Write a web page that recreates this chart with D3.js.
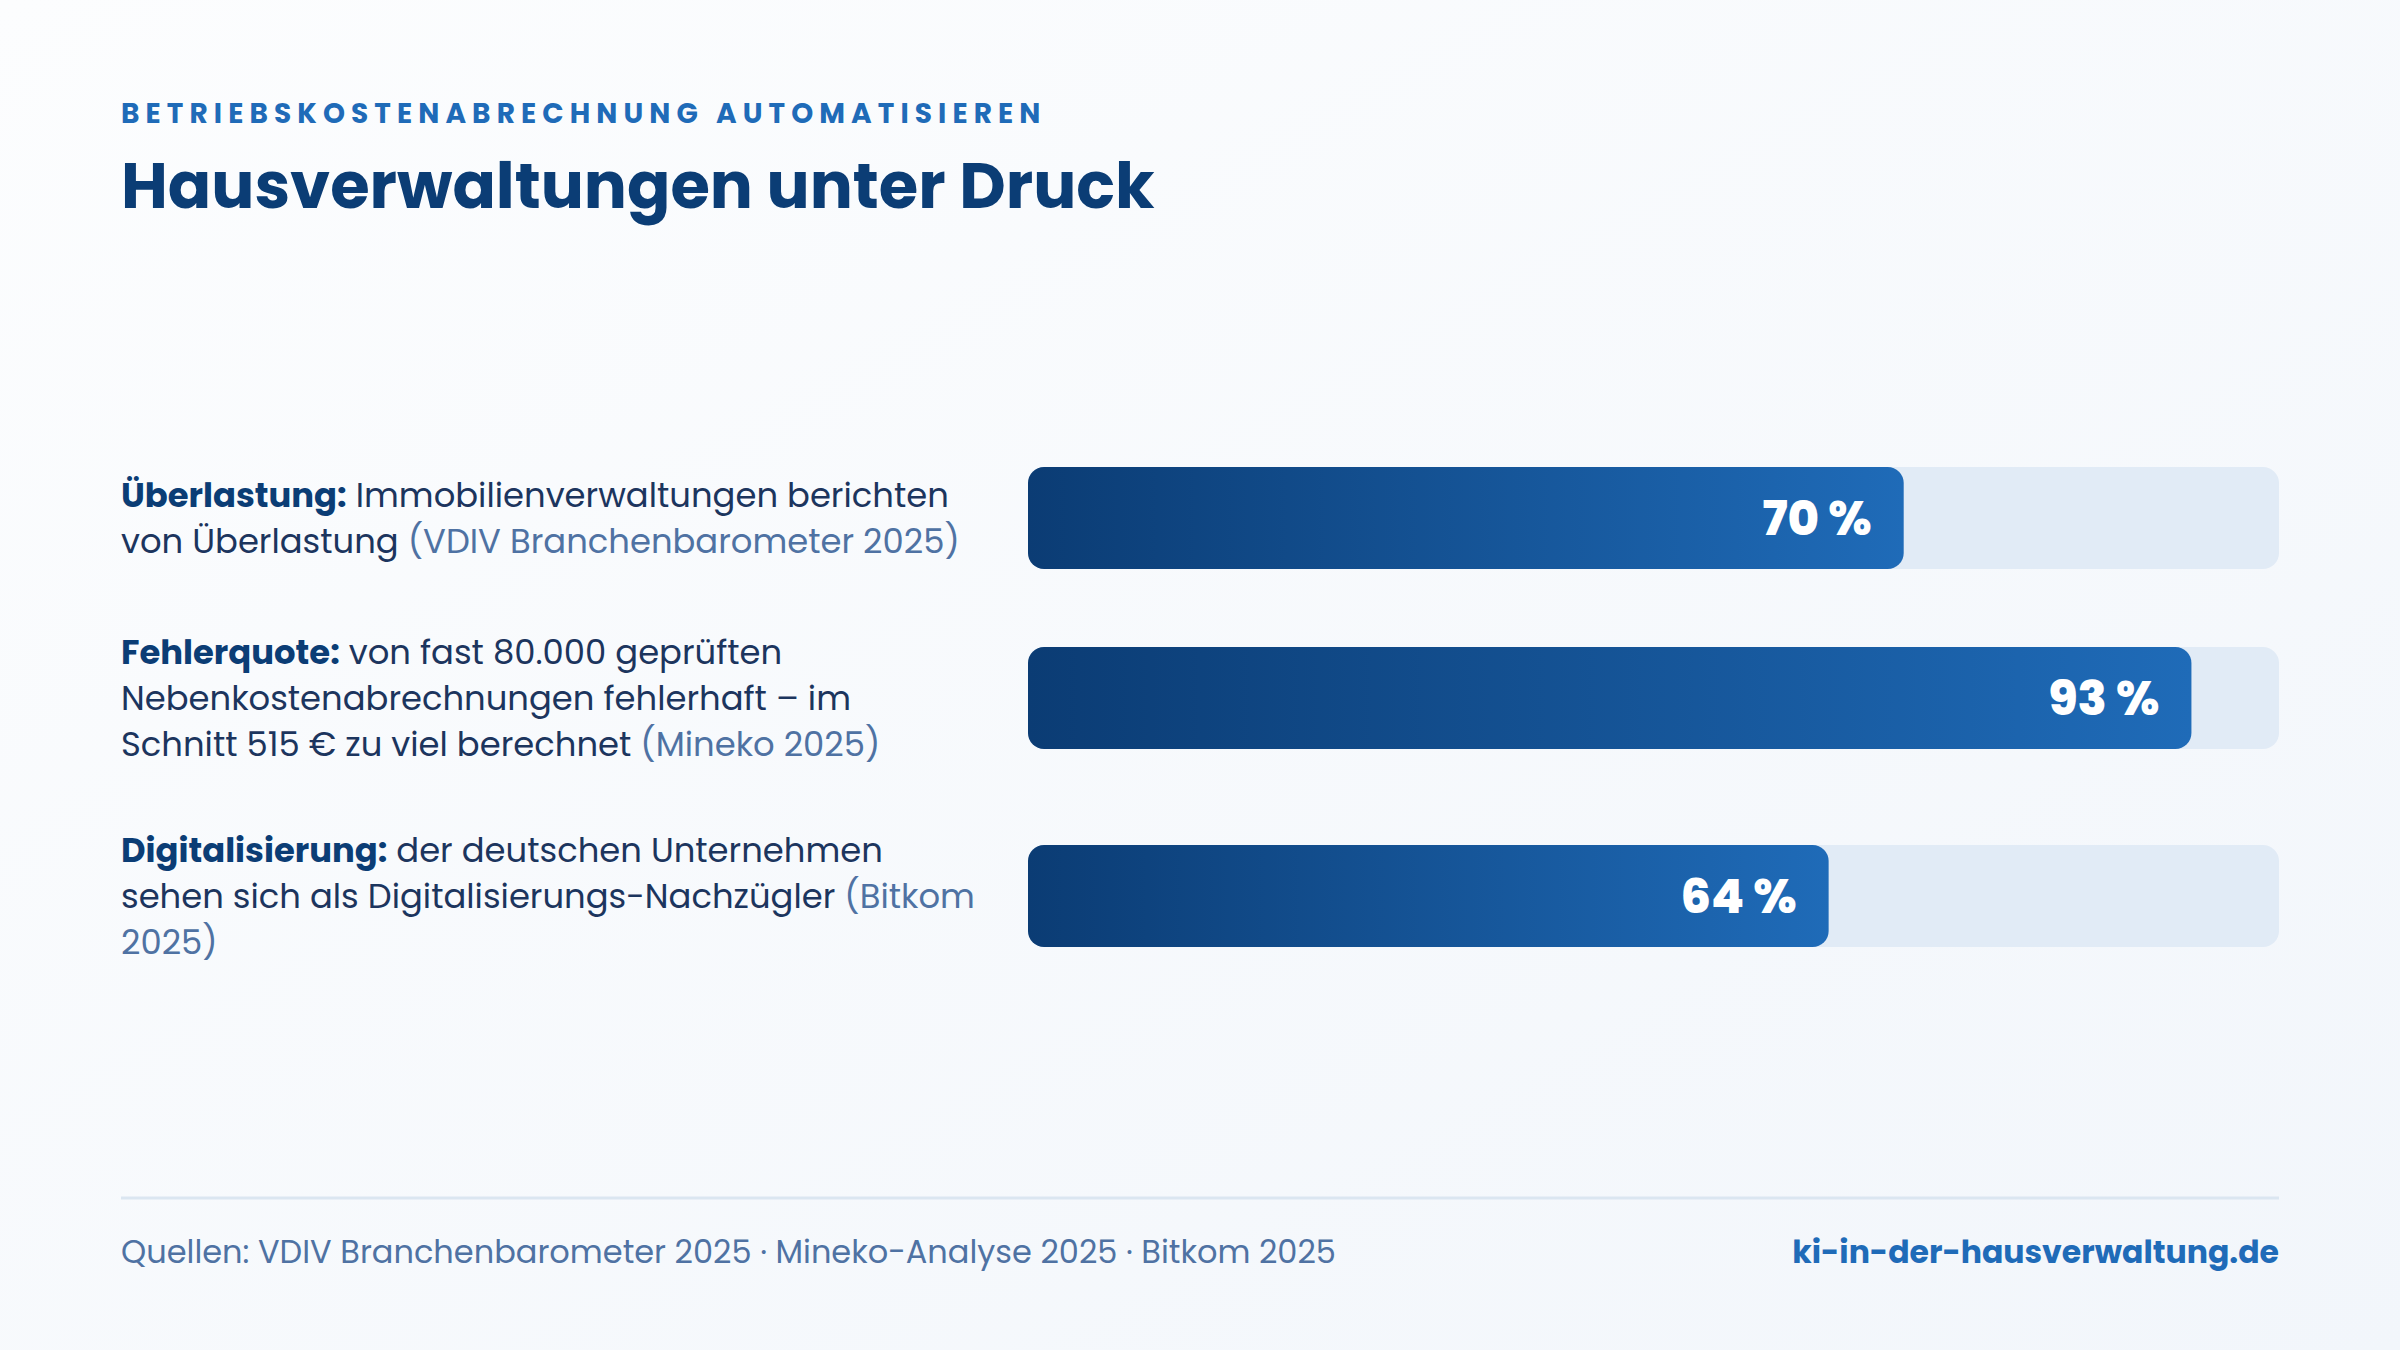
<!DOCTYPE html>
<html>
<head>
<meta charset="utf-8">
<script src="https://cdn.jsdelivr.net/npm/d3@7"></script>
<style>
  html, body { margin: 0; padding: 0; }
  body { width: 2400px; height: 1350px; overflow: hidden; }
  svg { display: block; font-family: Poppins, Inter, "Noto Sans", sans-serif; }
</style>
</head>
<body>
<div id="chart"></div>
<script>
// data ("\n" marks the line breaks seen in the picture)
const kicker = "BETRIEBSKOSTENABRECHNUNG AUTOMATISIEREN";
const title = "Hausverwaltungen unter Druck";
const headings = ["Überlastung:", "Fehlerquote:", "Digitalisierung:"];
const descriptions = [
  "Immobilienverwaltungen berichten\nvon Überlastung",
  "von fast 80.000 geprüften\nNebenkostenabrechnungen fehlerhaft – im\nSchnitt 515 € zu viel berechnet",
  "der deutschen Unternehmen\nsehen sich als Digitalisierungs-Nachzügler"
];
const sources = ["(VDIV Branchenbarometer 2025)", "(Mineko 2025)", "(Bitkom\n2025)"];
const values = [70, 93, 64];
const footerLeft = "Quellen: VDIV Branchenbarometer 2025 · Mineko-Analyse 2025 · Bitkom 2025";
const footerRight = "ki-in-der-hausverwaltung.de";

const W = 2400, H = 1350;
const left = 121, right = 2279;
const barX0 = 1028, barH = 102, gap = 60, lineH = 46;

const svg = d3.select("#chart").append("svg")
  .attr("width", W).attr("height", H);

const defs = svg.append("defs");
const bg = defs.append("linearGradient").attr("id", "bg")
  .attr("x1", 0).attr("y1", 0).attr("x2", 1).attr("y2", 1);
bg.append("stop").attr("offset", 0).attr("stop-color", "#fcfdfe");
bg.append("stop").attr("offset", 1).attr("stop-color", "#f2f6fb");

svg.append("rect").attr("width", W).attr("height", H).attr("fill", "url(#bg)");

// header
svg.append("text")
  .attr("x", left).attr("y", 123)
  .attr("fill", "#1f6bb8")
  .style("font-size", "28px").style("font-weight", 700)
  .style("letter-spacing", "6.1px")
  .text(kicker);

svg.append("text")
  .attr("x", left).attr("y", 208)
  .attr("fill", "#0b3d75")
  .style("font-size", "64px").style("font-weight", 700)
  .text(title);

var x = d3.scaleLinear().domain([0, 100]).range([barX0, right]);

// split an item into lines of styled segments
function itemLines(i) {
  const lines = [[{t: headings[i], k: "h"}]];
  [[descriptions[i], "d"], [sources[i], "s"]].forEach(([str, k]) => {
    str.split("\n").forEach((part, pi) => {
      if (pi > 0) lines.push([]);
      lines[lines.length - 1].push({t: part, k: k});
    });
  });
  return lines;
}

const colors = {h: "#0b3d75", d: "#1c355e", s: "#4f72a3"};
let yTop = 467;

headings.forEach((h, i) => {
  const lines = itemLines(i);
  const blockH = Math.max(lines.length * lineH, barH);
  const cy = yTop + blockH / 2;

  const g = svg.append("g");
  const txt = g.append("text").style("font-size", "33.8px");
  lines.forEach((line, li) => {
    const by = cy - (lines.length - 1) * lineH / 2 + li * lineH + 12;
    line.forEach((seg, si) => {
      txt.append("tspan")
        .attr("x", si == 0 ? left : null)
        .attr("y", si == 0 ? by : null)
        .attr("fill", colors[seg.k])
        .style("font-weight", seg.k == "h" ? 700 : 400)
        .text((si == 0 ? "" : " ") + seg.t);
    });
  });

  const by0 = cy - barH / 2;
  const grad = defs.append("linearGradient").attr("id", "bar" + i)
    .attr("gradientUnits", "userSpaceOnUse")
    .attr("x1", x(0)).attr("x2", x(values[i])).attr("y1", 0).attr("y2", 0);
  grad.append("stop").attr("offset", 0).attr("stop-color", "#0b3c74");
  grad.append("stop").attr("offset", 1).attr("stop-color", "#1f6bb8");

  g.append("rect")
    .attr("x", x(0)).attr("y", by0)
    .attr("width", x(100) - x(0)).attr("height", barH)
    .attr("rx", 16).attr("fill", "#e1ebf6");

  g.append("rect")
    .attr("x", x(0)).attr("y", by0)
    .attr("width", x(values[i]) - x(0)).attr("height", barH)
    .attr("rx", 16).attr("fill", "url(#bar" + i + ")");

  g.append("text")
    .attr("x", x(values[i]) - 32).attr("y", cy + 17)
    .attr("text-anchor", "end")
    .attr("fill", "#fff")
    .style("font-size", "48px").style("font-weight", 800)
    .text(values[i] + " %");

  yTop += blockH + gap;
});

// footer
svg.append("line")
  .attr("x1", left).attr("x2", right)
  .attr("y1", 1198).attr("y2", 1198)
  .attr("stroke", "#dbe6f1").attr("stroke-width", 3);

svg.append("text")
  .attr("x", left).attr("y", 1263)
  .attr("fill", "#4f72a3")
  .style("font-size", "32px")
  .text(footerLeft);

svg.append("text")
  .attr("x", right).attr("y", 1263)
  .attr("text-anchor", "end")
  .attr("fill", "#1f6bb8")
  .style("font-size", "31.5px").style("font-weight", 700)
  .text(footerRight);
</script>
</body>
</html>
